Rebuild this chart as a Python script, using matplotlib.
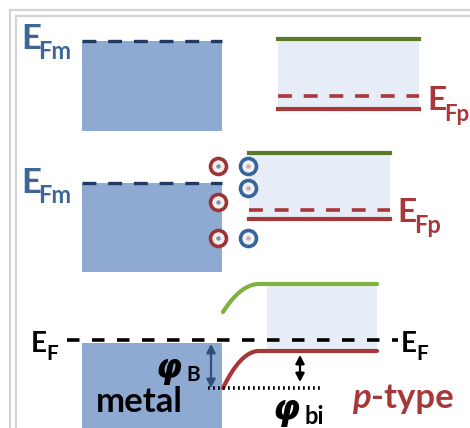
import matplotlib.pyplot as plt
import numpy as np
from matplotlib.patches import Rectangle, FancyArrowPatch

plt.rcParams['lines.scale_dashes'] = False

# colours
METAL = '#8eaad3'
GAP = '#e7edf6'
GREEN_DARK = '#5a7a25'
GREEN = '#7fb23f'
RED = '#a8373a'
NAVY = '#1e3b63'
STEEL = '#3e6797'
FRAME = '#d4d4d4'
FONT = 'Lato'

# energy levels (y grows downward, pixel-like units)
# panel 1: isolated metal and p-type semiconductor
metal1_x = [82, 222]
metal1_y = [41, 131]
semi1_x = [278, 419]
semi1_Ec, semi1_EF, semi1_Ev = 39, 96, 109

# panel 2: contact made, charge transfer at the interface
metal2_x = [82, 222]
metal2_y = [183, 272]
semi2_x = [249, 390]
semi2_Ec, semi2_EF, semi2_Ev = 153, 210, 219
holes_y = [166, 202, 238]      # red circles, metal side
electrons_y = [166, 188, 238]  # blue circles, semiconductor side

# panel 3: equilibrium band diagram
EF = 340
metal3_x = [82, 222]
metal3_top = 343
Ec_bulk, Ec_interface = 284, 312
Ev_bulk, Ev_interface = 351, 388
bend_width = 36
semi3_end = 377
gap3_x = [267, 377]
phiB_ref = 388

fig = plt.figure(figsize=(4.70, 4.28), dpi=100)
ax = fig.add_axes([0, 0, 1, 1])
ax.set_xlim(0, 470)
ax.set_ylim(428, 0)
ax.axis('off')

# L-shaped double frame
for off in (10, 16):
    ax.plot([off, 470], [off - 0.5, off - 0.5], color=FRAME, lw=1.6)
    ax.plot([off, off], [off - 0.5, 428], color=FRAME, lw=1.6)

dash_big = (0, (10, 8.5))


def label(x, y, main, sub, color, size, subsize, dx, dy):
    ax.text(x, y, main, color=color, fontsize=size, fontweight='bold',
            family=FONT, va='baseline', ha='left')
    ax.text(x + dx, y + dy, sub, color=color, fontsize=subsize,
            fontweight='bold', family=FONT, va='baseline', ha='left')


def phi(x, y, size):
    ax.text(x, y, '\u03c6', color='black', fontsize=size, fontweight='bold',
            style='italic', family='DejaVu Sans', va='baseline')


# ---- panel 1 ----
ax.add_patch(Rectangle((metal1_x[0], metal1_y[0]), metal1_x[1] - metal1_x[0],
                       metal1_y[1] - metal1_y[0], color=METAL, lw=0))
ax.plot(metal1_x, [metal1_y[0]] * 2, color=NAVY, lw=2.4, ls=dash_big)
ax.add_patch(Rectangle((semi1_x[0], semi1_Ec), semi1_x[1] - semi1_x[0],
                       semi1_Ev - semi1_Ec, color=GAP, lw=0))
ax.plot(semi1_x, [semi1_Ec] * 2, color=GREEN_DARK, lw=3)
ax.plot(semi1_x, [semi1_EF] * 2, color=RED, lw=2.6, ls=dash_big)
ax.plot(semi1_x, [semi1_Ev] * 2, color=RED, lw=3)
label(21, 49, 'E', 'Fm', STEEL, 25, 17, 17, 10)
label(427, 110, 'E', 'Fp', RED, 24, 16, 17, 11)

# ---- panel 2 ----
ax.add_patch(Rectangle((metal2_x[0], metal2_y[0]), metal2_x[1] - metal2_x[0],
                       metal2_y[1] - metal2_y[0], color=METAL, lw=0))
ax.plot(metal2_x, [metal2_y[0]] * 2, color=NAVY, lw=2.4, ls=dash_big)
ax.add_patch(Rectangle((semi2_x[0], semi2_Ec), semi2_x[1] - semi2_x[0],
                       semi2_Ev - semi2_Ec, color=GAP, lw=0))
ax.plot(semi2_x, [semi2_Ec] * 2, color=GREEN_DARK, lw=3)
ax.plot(semi2_x, [semi2_EF] * 2, color=RED, lw=2.6, ls=dash_big)
ax.plot(semi2_x, [semi2_Ev] * 2, color=RED, lw=3)
label(21, 193, 'E', 'Fm', STEEL, 25, 17, 17, 10)
label(397, 222, 'E', 'Fp', RED, 24, 17, 17, 11)

ax.plot([218] * len(holes_y), holes_y, 'o', ms=11.5, mfc='#f4eeee',
        mec='#9e3336', mew=2.6)
ax.plot([218] * len(holes_y), holes_y, 'o', ms=3.2, color='#7d8fb0', mew=0)
ax.plot([248] * len(electrons_y), electrons_y, 'o', ms=11.5, mfc='#eef1f6',
        mec='#36649c', mew=2.6)
ax.plot([248] * len(electrons_y), electrons_y, 'o', ms=3.2, color='#c9a9a9',
        mew=0)

# ---- panel 3 ----
ax.add_patch(Rectangle((metal3_x[0], metal3_top), metal3_x[1] - metal3_x[0],
                       428 - metal3_top, color=METAL, lw=0))
ax.add_patch(Rectangle((gap3_x[0], Ec_bulk), gap3_x[1] - gap3_x[0],
                       Ev_bulk - Ec_bulk, color=GAP, lw=0))

# parabolic band bending in the depletion region
t = np.linspace(0, 1, 60)
xb = metal3_x[1] + 1 + bend_width * t
ec = Ec_bulk + (Ec_interface - Ec_bulk) * (1 - t) ** 2
ev = Ev_bulk + (Ev_interface - Ev_bulk) * (1 - t) ** 2
ax.plot(np.r_[xb, semi3_end], np.r_[ec, Ec_bulk], color=GREEN, lw=3,
        solid_capstyle='round')
ax.plot(np.r_[xb, semi3_end], np.r_[ev, Ev_bulk], color=RED, lw=3,
        solid_capstyle='round')

ax.plot([67, 398], [EF, EF], color='black', lw=2.6, ls=(0, (9, 9)))
ax.plot([208, 320], [phiB_ref, phiB_ref], color='black', lw=2.6,
        ls=(0, (1.3, 2.3)))

ax.add_patch(FancyArrowPatch((211, metal3_top + 1), (211, phiB_ref),
                             arrowstyle='<|-|>,head_length=5,head_width=2.6',
                             color='#2d4f7c', lw=1.6, shrinkA=0, shrinkB=0))
ax.add_patch(FancyArrowPatch((300, Ev_bulk + 4), (300, phiB_ref - 6),
                             arrowstyle='<|-|>,head_length=5,head_width=2.6',
                             color='black', lw=1.6, shrinkA=0, shrinkB=0))

label(31, 352, 'E', 'F', 'black', 20, 15, 15, 8)
label(401, 352, 'E', 'F', 'black', 20, 15, 15, 8)

ax.text(96, 412, 'metal', color='black', fontsize=25, fontweight='bold',
        family=FONT, va='baseline')
phi(155, 378, 24)
ax.text(186, 381, 'B', color='black', fontsize=15, fontweight='bold',
        family=FONT, va='baseline')
phi(272, 420, 25)
ax.text(304, 424, 'bi', color='black', fontsize=17, fontweight='bold',
        family=FONT, va='baseline')
ax.text(352, 408, 'p', color=RED, fontsize=25, fontweight='bold',
        style='italic', family=FONT, va='baseline')
ax.text(371, 408, '-type', color=RED, fontsize=25, fontweight='bold',
        family=FONT, va='baseline')

fig.savefig('out.png', dpi=100)
